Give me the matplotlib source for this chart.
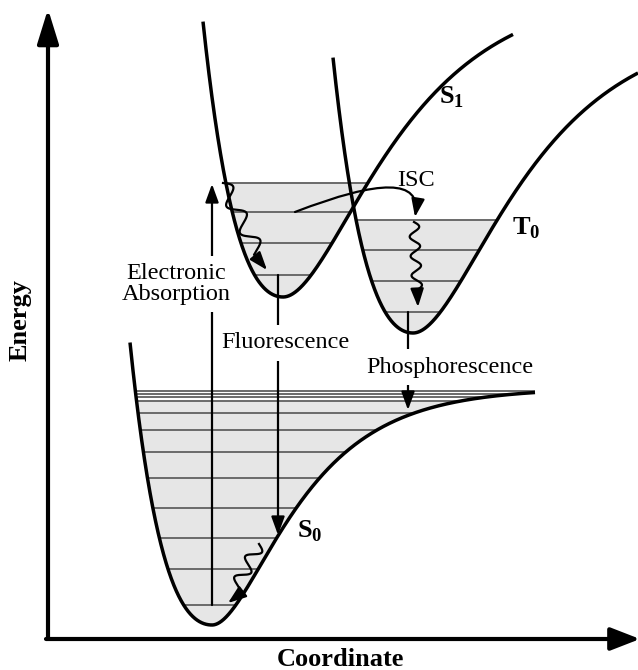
import numpy as np
import matplotlib
matplotlib.use('Agg')
import matplotlib.pyplot as plt
from matplotlib.patches import FancyArrowPatch
from matplotlib.path import Path

plt.rcParams['font.family'] = ['Liberation Serif', 'DejaVu Serif']
plt.rcParams['mathtext.fontset'] = 'custom'
plt.rcParams['mathtext.rm'] = 'Liberation Serif'
plt.rcParams['mathtext.bf'] = 'Liberation Serif:bold'

# ---- potential energy curves (S0, S1, T0) ----
states = ['S0', 'S1', 'T0']
well_x = [212, 283, 413]          # coordinate of each minimum
well_min = [45, 373, 337]         # energy of each minimum
depth = [237, 310, 310]           # dissociation depth
steep_left = [0.0090, 0.0083, 0.0083]
steep_right = [0.0144, 0.0110, 0.0110]
x_start = [130, 203, 333]
x_end = [535, 513, 638]
fill_top = [269, 487, 450]        # energy of the highest shaded level

# vibrational levels (energies)
levels_S0 = [279, 276, 273, 269, 257, 240, 218, 192, 162, 132, 101, 65]
levels_S1 = [487, 458, 427, 395]
levels_T0 = [450, 420, 389, 358]
levels = [levels_S0, levels_S1, levels_T0]

# transitions: (x, energy from, energy to)
absorption = (212, 65, 486)
fluorescence = (278, 395, 135)
phosphorescence = (408, 358, 260)
# wavy (vibrational relaxation) arrows: start, end, waves, amplitude
relax_S1 = ((223, 487), (267, 400), 2.6, 7.5)
relax_T0 = ((414, 448), (418, 363), 3.5, 5.0)
relax_S0 = ((259, 126), (228, 67), 2.3, 6.5)
# ISC curved arrow: start, control, end
isc_path = [(295, 458), (424, 508), (415, 453)]

# labels
label_text = ['Electronic\nAbsorption', 'Fluorescence', 'Phosphorescence', 'ISC']
label_pos = [(176, 386), (285, 327), (450, 303), (416, 490)]
state_label_pos = [(310, 139), (452, 573), (526, 442)]
state_label_txt = [r'$\mathbf{S}_\mathbf{0}$', r'$\mathbf{S}_\mathbf{1}$', r'$\mathbf{T}_\mathbf{0}$']

FILL = '#e6e6e6'
LEVEL = '#6a6a6a'


def morse(x, x0, e0, D, aL, aR):
    dx = x - x0
    a = np.where(dx < 0, aL, aR)
    return e0 + D * (1 - np.exp(-a * dx)) ** 2


def level_span(E, x0, e0, D, aL, aR, xs, xe):
    r = np.sqrt((E - e0) / D)
    xl = x0 - np.log(1 + r) / aL
    xr = x0 - np.log(1 - r) / aR if r < 1 else xe
    return max(xl, xs), min(xr, xe)


fig = plt.figure(figsize=(6.38, 6.70), dpi=100)
ax = fig.add_axes([0, 0, 1, 1])
ax.set_xlim(0, 638)
ax.set_ylim(0, 670)
ax.axis('off')

for i in range(3):
    x = np.linspace(x_start[i], x_end[i], 3000)
    y = morse(x, well_x[i], well_min[i], depth[i], steep_left[i], steep_right[i])
    ax.fill_between(x, y, fill_top[i], where=y <= fill_top[i], color=FILL,
                    lw=0, zorder=1, interpolate=True)

for i in range(3):
    for E in levels[i]:
        xl, xr = level_span(E, well_x[i], well_min[i], depth[i],
                            steep_left[i], steep_right[i], x_start[i], x_end[i])
        ax.plot([xl, xr], [E, E], color=LEVEL, lw=1.4, zorder=2,
                solid_capstyle='butt')

for i in range(3):
    x = np.linspace(x_start[i], x_end[i], 3000)
    y = morse(x, well_x[i], well_min[i], depth[i], steep_left[i], steep_right[i])
    ax.plot(x, y, color='black', lw=2.5, zorder=4, solid_capstyle='butt')


HEAD = '-|>,head_length=0.55,head_width=0.2'


def straight_arrow(x, e_from, e_to):
    ax.annotate('', xy=(x, e_to), xytext=(x, e_from),
                arrowprops=dict(arrowstyle=HEAD, mutation_scale=20, lw=1.6,
                                color='black', shrinkA=0, shrinkB=0), zorder=3)


for tr in (absorption, fluorescence, phosphorescence):
    straight_arrow(*tr)


def wavy(spec):
    p0, p1, n, amp = spec
    p0 = np.array(p0, float)
    p1 = np.array(p1, float)
    d = p1 - p0
    L = np.hypot(*d)
    u = d / L
    perp = np.array([-u[1], u[0]])
    tt = 0.8
    t = np.linspace(0, tt, 400)
    pts = p0 + np.outer(t, d) + np.outer(amp * np.sin(2 * np.pi * n * t / tt), perp)
    ax.plot(pts[:, 0], pts[:, 1], color='black', lw=1.6, zorder=5)
    ax.annotate('', xy=tuple(p1), xytext=tuple(pts[-1]),
                arrowprops=dict(arrowstyle=HEAD, mutation_scale=20, lw=1.6,
                                color='black', shrinkA=0, shrinkB=0), zorder=5)


for spec in (relax_S1, relax_T0, relax_S0):
    wavy(spec)

isc = FancyArrowPatch(path=Path(isc_path, [Path.MOVETO, Path.CURVE3, Path.CURVE3]),
                      arrowstyle='-|>,head_length=11,head_width=4',
                      mutation_scale=1, lw=1.6, color='black', zorder=5)
ax.add_patch(isc)

for txt, pos in zip(label_text, label_pos):
    kw = dict(ha='center', va='center', fontsize=17.5, zorder=6,
              linespacing=0.98)
    if txt != 'ISC':
        kw['bbox'] = dict(boxstyle='square,pad=0.3', fc='white', ec='none')
    ax.text(pos[0], pos[1], txt, **kw)

for txt, pos in zip(state_label_txt, state_label_pos):
    ax.text(pos[0], pos[1], txt, ha='center', va='center', fontsize=19, zorder=6)

# axes arrows
ax.add_patch(FancyArrowPatch((48, 31), (48, 661),
                             arrowstyle='-|>,head_length=21,head_width=6.5',
                             mutation_scale=1, lw=3, color='black',
                             shrinkA=0, shrinkB=0, zorder=7))
ax.add_patch(FancyArrowPatch((46, 31), (640, 31),
                             arrowstyle='-|>,head_length=18,head_width=7',
                             mutation_scale=1, lw=3, color='black',
                             shrinkA=0, shrinkB=0, zorder=7))

ax.text(20, 350, 'Energy', rotation=90, ha='center', va='center',
        fontsize=19, fontweight='bold')
ax.text(340, 10, 'Coordinate', ha='center', va='center',
        fontsize=19, fontweight='bold')

fig.savefig('out.png', dpi=100)
